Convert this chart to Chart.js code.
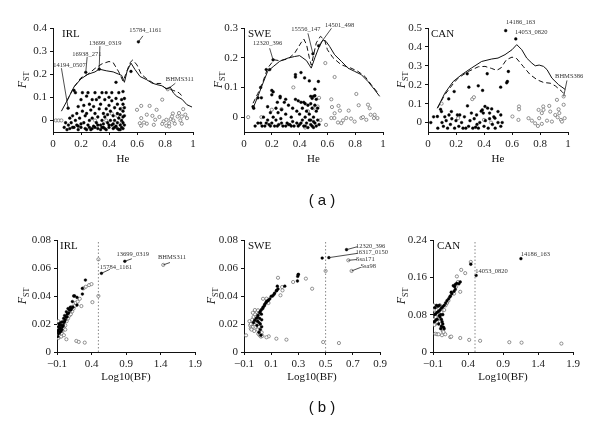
<!DOCTYPE html>
<html>
<head>
<meta charset="utf-8">
<script src="https://cdn.jsdelivr.net/npm/chart.js@4.4.1/dist/chart.umd.min.js"></script>
<style>
body { margin: 0; background: #fff; width: 600px; height: 433px; position: relative; overflow: hidden; }
canvas { position: absolute; }
.tag { position: absolute; width: 60px; text-align: center; font-family: "Liberation Sans", Arial, sans-serif; font-size: 15px; line-height: 17px; color: #111; }
</style>
</head>
<body>
<canvas id="aIRL"></canvas>
<canvas id="aSWE"></canvas>
<canvas id="aCAN"></canvas>
<canvas id="bIRL"></canvas>
<canvas id="bSWE"></canvas>
<canvas id="bCAN"></canvas>
<div class="tag" style="left:292px; top:191px">( a )</div>
<div class="tag" style="left:292px; top:398px">( b )</div>
<script>
// tick values and labels
const heTicks = [0, 0.2, 0.4, 0.6, 0.8, 1]
const heTickLabels = ['0', '0.2', '0.4', '0.6', '0.8', '1']
const bfTicksWide = [-0.1, 0.4, 0.9, 1.4, 1.9]
const bfTickLabelsWide = ['\u22120.1', '0.4', '0.9', '1.4', '1.9']
const bfTicksSwe = [-0.1, 0.1, 0.3, 0.5, 0.7, 0.9]
const bfTickLabelsSwe = ['\u22120.1', '0.1', '0.3', '0.5', '0.7', '0.9']
const fstTicksIrl = [0, 0.1, 0.2, 0.3, 0.4]
const fstTicksSwe = [0, 0.1, 0.2, 0.3]
const fstTicksCan = [0, 0.1, 0.2, 0.3, 0.4, 0.5]
const fstTicksB = [0, 0.02, 0.04, 0.06, 0.08]
const fstTicksBCan = [0, 0.08, 0.16, 0.24]
const bfCutoff = 0.5

// (a) IRL
const aIrlSolidX = [0.06,0.1,0.15,0.2,0.25,0.3,0.33,0.38,0.43,0.47,0.49,0.51,0.53,0.557,0.586,0.622,0.67,0.706,0.742,0.778,0.813,0.837,0.861,0.885,0.921,0.957,0.993]
const aIrlSolid = [0.04,0.085,0.145,0.18,0.2,0.21,0.222,0.215,0.21,0.2,0.195,0.165,0.215,0.248,0.22,0.19,0.176,0.162,0.155,0.15,0.136,0.145,0.118,0.104,0.092,0.068,0.058]
const aIrlDashedX = [0.1,0.15,0.2,0.25,0.3,0.35,0.4,0.43,0.47,0.5,0.52,0.55,0.57,0.6,0.63,0.67,0.72,0.77,0.8,0.83,0.86,0.9,0.93]
const aIrlDashed = [0.085,0.145,0.185,0.2,0.225,0.245,0.255,0.25,0.21,0.17,0.2,0.25,0.262,0.24,0.2,0.18,0.16,0.16,0.14,0.135,0.13,0.12,0.1]
const aIrlFilled = [[0.108,0.053],[0.234,0.208],[0.33,0.222],[0.557,0.212],[0.61,0.34],
  [0.08,-0.03],[0.09,-0.01],[0.1,-0.04],[0.11,-0.02],[0.12,-0.035],[0.12,0.01],[0.13,-0.01],[0.14,0.02],[0.14,-0.03],[0.15,-0.03],[0.15,0.13],
  [0.16,0.0],[0.16,0.12],[0.17,0.03],[0.17,-0.02],[0.18,0.06],[0.18,-0.04],[0.18,-0.025],[0.19,0.01],[0.2,0.09],[0.2,-0.03],[0.2,-0.015],
  [0.21,0.04],[0.21,0.12],[0.22,-0.01],[0.22,0.065],[0.23,0.02],[0.23,-0.035],[0.24,0.105],[0.24,0.03],[0.24,-0.04],[0.25,0.12],[0.25,-0.02],
  [0.26,0.07],[0.26,0.0],[0.26,-0.03],[0.27,0.045],[0.27,-0.04],[0.28,0.09],[0.28,0.01],[0.28,-0.035],[0.29,-0.025],[0.29,0.06],[0.3,0.12],
  [0.3,0.03],[0.3,-0.03],[0.31,-0.01],[0.31,0.09],[0.32,0.015],[0.32,-0.035],[0.32,-0.02],[0.33,0.1],[0.33,0.05],[0.34,-0.02],[0.34,0.07],
  [0.34,-0.04],[0.35,0.12],[0.35,0.0],[0.35,-0.03],[0.36,0.03],[0.36,-0.03],[0.36,-0.015],[0.37,0.09],[0.37,0.015],[0.37,-0.035],[0.38,0.12],
  [0.38,-0.04],[0.38,0.05],[0.39,-0.01],[0.39,0.025],[0.4,0.1],[0.4,-0.03],[0.4,0.065],[0.4,-0.02],[0.41,0.0],[0.41,0.04],[0.42,-0.02],
  [0.42,0.12],[0.42,0.085],[0.43,0.02],[0.43,-0.035],[0.43,-0.015],[0.44,0.055],[0.44,0.0],[0.44,-0.03],[0.45,0.165],[0.45,0.095],[0.45,-0.025],
  [0.46,0.03],[0.46,0.07],[0.46,-0.01],[0.46,-0.035],[0.47,0.12],[0.47,0.01],[0.47,-0.04],[0.48,0.05],[0.48,-0.02],[0.48,0.025],[0.48,-0.04],
  [0.49,0.09],[0.49,0.0],[0.49,-0.03],[0.5,0.125],[0.5,0.07],[0.5,0.04],[0.5,0.015],[0.5,-0.01],[0.5,-0.035],[0.51,0.095],[0.51,0.055],
  [0.51,0.02],[0.51,-0.02]]
const aIrlOpen = [[0.02,0.0],[0.04,0.0],[0.06,0.0],[0.3,0.0],[0.38,0.0],[0.42,0.03],[0.46,0.02],[0.49,0.05],[0.49,-0.01],
  [0.6,0.046],[0.63,0.063],[0.69,0.063],[0.74,0.046],[0.78,0.09],[0.63,0.01],[0.62,-0.012],[0.63,-0.023],[0.67,0.025],[0.71,0.02],
  [0.73,0.003],[0.76,0.015],[0.79,-0.004],[0.81,-0.023],[0.83,-0.012],[0.84,0.006],[0.86,0.0],[0.89,0.017],[0.9,0.032],[0.92,0.017],
  [0.93,0.049],[0.945,0.025],[0.957,0.01],[0.856,0.03],[0.81,0.003],[0.78,-0.015],[0.72,-0.019],[0.67,-0.014],[0.65,-0.009],[0.83,-0.026],
  [0.91,0.0],[0.87,-0.014],[0.85,0.017],[0.92,-0.014],[0.82,0.135]]

// (a) SWE
const aSweSolidX = [0.065,0.1,0.137,0.17,0.21,0.257,0.317,0.364,0.4,0.424,0.45,0.47,0.484,0.51,0.537,0.568,0.59,0.616,0.652,0.7,0.748,0.796,0.844,0.892,0.94,0.976]
const aSweSolid = [0.03,0.07,0.115,0.154,0.17,0.188,0.199,0.204,0.207,0.199,0.19,0.175,0.165,0.2,0.233,0.26,0.255,0.238,0.21,0.188,0.165,0.154,0.143,0.12,0.092,0.07]
const aSweDashedX = [0.065,0.1,0.137,0.17,0.216,0.257,0.317,0.364,0.41,0.43,0.45,0.47,0.484,0.52,0.55,0.58,0.6,0.64,0.7,0.77,0.82,0.87,0.916,0.964]
const aSweDashed = [0.047,0.08,0.12,0.165,0.193,0.19,0.196,0.215,0.25,0.263,0.244,0.2,0.175,0.25,0.272,0.26,0.227,0.2,0.176,0.165,0.154,0.137,0.109,0.081]
const aSweFilled = [[0.209,0.193],[0.496,0.213],[0.537,0.24],
  [0.065,0.035],[0.07,0.03],[0.08,-0.03],[0.1,0.065],[0.1,-0.02],[0.12,0.1],[0.125,0.065],[0.12,-0.02],[0.13,-0.03],[0.14,0.0],[0.15,-0.03],
  [0.16,0.16],[0.16,-0.02],[0.17,0.035],[0.17,-0.01],[0.18,-0.025],[0.185,0.16],[0.19,0.015],[0.19,-0.03],[0.2,0.09],[0.2,0.075],[0.2,-0.02],
  [0.21,0.085],[0.21,0.0],[0.22,-0.03],[0.23,0.03],[0.23,-0.01],[0.24,0.05],[0.24,-0.03],[0.245,0.015],[0.25,-0.025],[0.26,0.07],[0.26,0.065],
  [0.265,-0.005],[0.27,0.025],[0.27,-0.02],[0.28,-0.03],[0.29,0.05],[0.3,0.06],[0.3,0.01],[0.3,-0.03],[0.31,-0.02],[0.32,0.04],[0.32,-0.025],
  [0.33,-0.025],[0.34,0.0],[0.34,-0.03],[0.35,0.03],[0.35,-0.015],[0.36,-0.03],[0.37,0.135],[0.37,0.143],[0.37,0.06],[0.38,0.02],[0.38,-0.02],
  [0.39,0.055],[0.39,-0.03],[0.4,-0.025],[0.4,0.01],[0.41,0.15],[0.41,0.05],[0.41,-0.02],[0.42,-0.01],[0.42,0.03],[0.43,0.05],[0.43,-0.03],
  [0.436,0.132],[0.44,0.0],[0.44,0.045],[0.44,-0.03],[0.45,0.02],[0.45,-0.02],[0.46,0.04],[0.46,-0.035],[0.47,0.122],[0.47,0.01],[0.47,-0.01],
  [0.48,0.07],[0.48,0.045],[0.48,-0.025],[0.48,-0.01],[0.49,0.063],[0.49,0.03],[0.49,-0.03],[0.5,0.07],[0.5,0.0],[0.5,-0.015],[0.5,-0.035],
  [0.51,0.094],[0.51,0.072],[0.51,0.04],[0.51,-0.02],[0.52,0.06],[0.52,0.02],[0.52,-0.03],[0.53,0.03],[0.53,-0.01],[0.535,0.12],[0.54,-0.025]]
const aSweOpen = [[0.03,0.0],[0.125,0.0],[0.2,0.025],[0.27,0.027],[0.355,0.1],[0.44,-0.035],[0.46,0.02],[0.5,0.03],[0.53,0.036],[0.54,0.065],
  [0.55,-0.01],[0.585,0.182],[0.59,-0.026],[0.628,0.06],[0.628,-0.003],[0.633,0.034],[0.65,-0.003],[0.652,0.135],[0.652,0.013],[0.676,-0.018],
  [0.68,0.038],[0.69,0.022],[0.7,-0.02],[0.712,-0.011],[0.736,-0.003],[0.753,0.022],[0.77,-0.005],[0.796,-0.015],[0.808,0.078],[0.825,0.04],
  [0.844,-0.003],[0.856,0.0],[0.88,-0.009],[0.892,0.042],[0.904,0.03],[0.911,0.008],[0.935,-0.003],[0.94,0.008],[0.96,-0.003]]

// (a) CAN
const aCanSolidX = [0.067,0.12,0.18,0.24,0.31,0.383,0.455,0.5,0.55,0.6,0.634,0.67,0.705,0.742,0.766,0.794,0.825,0.85,0.885,0.933,0.98]
const aCanSolid = [0.076,0.155,0.217,0.253,0.288,0.323,0.336,0.341,0.359,0.385,0.412,0.385,0.341,0.314,0.3,0.304,0.297,0.28,0.235,0.2,0.175]
const aCanDashedX = [0.067,0.12,0.18,0.215,0.287,0.36,0.407,0.455,0.49,0.52,0.56,0.6,0.634,0.68,0.73,0.78,0.825,0.873,0.909,0.957,0.985]
const aCanDashed = [0.076,0.147,0.205,0.235,0.27,0.295,0.297,0.286,0.276,0.288,0.332,0.346,0.338,0.297,0.253,0.226,0.212,0.208,0.194,0.164,0.141]
const aCanFilled = [[0.555,0.486],[0.627,0.442],
  [0.02,0.0],[0.04,0.03],[0.067,0.032],[0.07,-0.03],[0.09,0.07],[0.096,0.058],[0.1,0.0],[0.11,-0.02],[0.12,0.03],[0.13,0.01],[0.14,-0.03],
  [0.148,0.125],[0.15,0.04],[0.16,-0.01],[0.167,0.058],[0.17,0.02],[0.187,0.164],[0.19,-0.03],[0.2,0.01],[0.21,0.04],[0.22,-0.02],[0.227,0.04],
  [0.24,0.0],[0.25,-0.03],[0.26,0.03],[0.28,0.258],[0.282,0.088],[0.292,0.187],[0.29,-0.02],[0.3,0.01],[0.31,0.05],[0.32,-0.03],[0.33,0.02],
  [0.347,0.04],[0.35,-0.01],[0.359,0.194],[0.36,-0.03],[0.37,0.0],[0.38,0.06],[0.388,0.067],[0.39,0.17],[0.395,0.05],[0.4,-0.02],[0.407,0.085],
  [0.41,0.01],[0.423,0.258],[0.426,0.076],[0.43,-0.03],[0.44,0.05],[0.44,0.02],[0.455,0.072],[0.46,-0.01],[0.47,0.03],[0.478,0.023],[0.48,-0.03],
  [0.5,0.058],[0.5,0.0],[0.519,0.187],[0.52,0.04],[0.52,-0.02],[0.562,0.21],[0.567,0.217],[0.574,0.27],[0.53,0.0],[0.27,-0.03],[0.34,-0.025]]
const aCanOpen = [[0.097,0.1],[0.215,0.023],[0.316,0.124],[0.328,0.134],[0.4,0.014],[0.45,0.0],[0.603,0.032],[0.65,0.085],[0.65,0.07],
  [0.646,0.014],[0.718,0.023],[0.742,0.01],[0.765,-0.004],[0.785,-0.018],[0.79,0.067],[0.794,0.023],[0.813,0.05],[0.813,-0.007],[0.823,0.085],
  [0.825,0.067],[0.85,0.01],[0.866,0.088],[0.873,0.058],[0.885,0.005],[0.909,0.04],[0.921,0.12],[0.926,0.028],[0.933,0.07],[0.938,0.05],
  [0.95,0.014],[0.957,0.005],[0.969,0.094],[0.969,0.138],[0.976,0.023]]

// (b) IRL
const bIrlFilled = [[0.312,0.0514],[0.268,0.0454],[0.268,0.0414],[0.19,0.039],[0.142,0.04],[0.155,0.04],[0.19,0.0335],[0.123,0.036],
  [0.094,0.032],[0.06,0.031],[0.036,0.0287],[0.011,0.026],[-0.003,0.024],[-0.023,0.0215],[-0.037,0.019],[-0.05,0.017],[0.544,0.0562],
  [0.883,0.0648],[0.08,0.03],[0.07,0.028],[0.05,0.027],[0.03,0.025],[0.02,0.023],[0.0,0.021],[-0.01,0.019],[-0.02,0.018],[-0.03,0.016],
  [-0.04,0.015],[-0.06,0.014],[-0.07,0.016],[-0.08,0.013],[-0.06,0.019],[-0.07,0.02],[-0.08,0.018],[0.1,0.03],[0.11,0.031],[0.13,0.032],
  [0.045,0.025],[0.01,0.022],[-0.045,0.021],[-0.09,0.015],[-0.09,0.011]]
const bIrlOpen = [[0.5,0.0662],[0.5,0.04],[0.413,0.0356],[0.365,0.0478],[0.317,0.0466],[0.4,0.0485],[0.253,0.0328],[0.18,0.0079],
  [0.215,0.0072],[0.302,0.0067],[0.036,0.0091],[0.171,0.0351],[0.123,0.0323],[-0.085,0.0175],[-0.071,0.0155],[-0.047,0.0127],
  [-0.071,0.0108],[1.44,0.0622],[-0.09,0.012],[-0.08,0.01],[-0.06,0.012],[-0.05,0.014],[-0.03,0.013],[-0.02,0.015],[0.0,0.017],
  [0.02,0.019],[0.04,0.022],[0.06,0.024],[0.08,0.026],[0.1,0.027],[0.12,0.029],[0.14,0.031],[0.16,0.033],[-0.09,0.019],[-0.08,0.022],
  [-0.04,0.011],[0.0,0.012],[0.02,0.016],[0.2,0.036],[0.23,0.038],[0.285,0.0455]]

// (b) SWE
const bSweFilled = [[0.475,0.0671],[0.524,0.0674],[0.654,0.0731],[0.298,0.0552],[0.295,0.054],[0.3,0.0555],[0.293,0.0507],[0.2,0.047],
  [0.15,0.045],[0.138,0.0436],[0.125,0.042],[0.1,0.0398],[0.09,0.038],[0.072,0.0364],[0.06,0.035],[0.052,0.034],[0.04,0.032],[0.028,0.0302],
  [0.02,0.029],[0.015,0.028],[0.003,0.0262],[-0.01,0.024],[-0.021,0.0226],[-0.03,0.021],[0.0,0.022],[0.01,0.021],[0.02,0.02],[0.03,0.023],
  [0.03,0.018],[0.02,0.016],[0.01,0.014],[0.025,0.012],[-0.005,0.019],[0.05,0.033],[0.065,0.036],[0.08,0.037],[0.11,0.04],[0.14,0.044],
  [0.145,0.047],[0.12,0.041],[0.038,0.031],[0.028,0.027],[0.0,0.025],[0.015,0.024]]
const bSweOpen = [[0.667,0.0655],[0.691,0.0579],[0.5,0.0579],[0.482,0.0071],[0.598,0.0064],[0.401,0.0452],[0.355,0.0524],[0.261,0.05],
  [0.15,0.053],[0.18,0.0464],[0.168,0.0405],[0.212,0.0088],[0.138,0.0095],[0.082,0.0112],[0.065,0.0105],[-0.085,0.0119],[0.015,0.0119],
  [0.025,0.011],[0.035,0.0115],[-0.034,0.0179],[-0.05,0.0167],[-0.04,0.0202],[-0.021,0.0214],[-0.009,0.0286],[0.003,0.0298],[0.065,0.0381],
  [0.08,0.035],[0.183,0.044],[-0.06,0.022],[-0.055,0.019],[-0.045,0.016],[-0.03,0.025],[-0.02,0.027],[-0.01,0.023],[-0.04,0.023],
  [-0.015,0.018],[0.0,0.016],[0.01,0.018],[-0.05,0.02],[-0.025,0.015],[0.005,0.013],[0.02,0.013],[-0.035,0.028],[-0.02,0.03],[0.04,0.038],
  [0.03,0.014]]

// (b) CAN
const bCanFilled = [[1.156,0.2],[0.516,0.164],[0.44,0.188],[0.289,0.15],[0.27,0.146],[0.218,0.134],[0.2,0.13],[0.17,0.125],[0.15,0.12],
  [0.123,0.114],[0.1,0.11],[0.08,0.105],[0.06,0.1],[0.04,0.097],[0.02,0.094],[0.0,0.09],[-0.02,0.087],[-0.04,0.085],[-0.06,0.082],
  [-0.08,0.08],[-0.07,0.095],[-0.05,0.1],[-0.03,0.098],[-0.01,0.1],[0.0,0.075],[0.02,0.07],[0.03,0.065],[0.04,0.06],[0.02,0.055],[0.01,0.05],
  [-0.02,0.06],[-0.04,0.07],[-0.06,0.068],[-0.08,0.065],[0.05,0.053],[0.06,0.05],[0.04,0.08],[0.01,0.08],[-0.01,0.078],[0.19,0.142],
  [0.21,0.14],[0.16,0.128],[0.14,0.118],[0.24,0.147],[0.22,0.145]]
const bCanOpen = [[0.44,0.193],[0.303,0.176],[0.36,0.169],[0.241,0.162],[0.255,0.15],[0.289,0.129],[-0.067,0.039],[-0.04,0.038],
  [-0.019,0.038],[0.028,0.036],[0.075,0.038],[0.146,0.032],[0.16,0.033],[0.289,0.03],[0.417,0.026],[0.573,0.024],[0.99,0.021],[1.165,0.02],
  [1.734,0.018],[-0.085,0.07],[-0.08,0.09],[-0.09,0.1],[-0.06,0.075],[-0.05,0.09],[-0.03,0.08],[-0.02,0.072],[0.0,0.065],[0.01,0.06],
  [0.03,0.05],[0.04,0.045],[0.05,0.043],[-0.07,0.06],[-0.09,0.08],[0.0,0.1],[0.02,0.085],[0.06,0.09],[0.08,0.1],[0.1,0.105],[0.12,0.11],
  [0.2,0.125],[0.23,0.14],[-0.08,0.058]]

const serif = '"Liberation Serif", "DejaVu Serif", serif'

function toPoints(pairs) {
    return pairs.map(([x, y]) => ({ x, y }))
}

function lineSet(xs, ys, dash) {
    return {
        data: xs.map((x, i) => ({ x, y: ys[i] })),
        showLine: true,
        borderColor: '#111',
        borderWidth: 1,
        borderDash: dash,
        pointRadius: 0,
        tension: 0
    }
}

function pointSet(pairs, filled) {
    return {
        data: toPoints(pairs),
        pointRadius: filled ? 1.4 : 1.6,
        pointBackgroundColor: filled ? '#000' : '#fff',
        pointBorderColor: filled ? '#000' : '#666',
        pointBorderWidth: filled ? 0.4 : 0.7
    }
}

function textPlugin(p) {
    return {
        id: 'panelText',
        afterDatasetsDraw(chart) {
            const ctx = chart.ctx
            const a = chart.chartArea
            const xs = chart.scales.x
            const ys = chart.scales.y
            ctx.save()
            ctx.fillStyle = '#111'
            ctx.textBaseline = 'middle'
            ctx.textAlign = 'left'
            ctx.font = '11px ' + serif
            ctx.fillText(p.name, a.left + p.nameDx, a.top + 6)
            ctx.textAlign = 'center'
            ctx.fillText(p.xTitle, (a.left + a.right) / 2, a.bottom + p.xTitleDy)

            // F with subscript ST, rotated
            ctx.save()
            ctx.translate(a.left - p.fstDx, (a.top + a.bottom) / 2)
            ctx.rotate(-Math.PI / 2)
            ctx.textAlign = 'left'
            ctx.textBaseline = 'alphabetic'
            ctx.font = 'italic 12px ' + serif
            const wF = ctx.measureText('F').width
            ctx.font = '8px ' + serif
            const wS = ctx.measureText('ST').width
            const x0 = -(wF + wS) / 2
            ctx.font = 'italic 12px ' + serif
            ctx.fillText('F', x0, 4)
            ctx.font = '8px ' + serif
            ctx.fillText('ST', x0 + wF, 7)
            ctx.restore()

            // locus labels
            ctx.font = '6.5px ' + serif
            ctx.fillStyle = '#333'
            ctx.strokeStyle = '#222'
            ctx.lineWidth = 0.8
            ctx.textAlign = 'center'
            ctx.textBaseline = 'middle'
            p.notes.forEach(n => {
                const px = xs.getPixelForValue(n.x)
                const py = ys.getPixelForValue(n.y)
                if (n.lx !== undefined) {
                    ctx.beginPath()
                    ctx.moveTo(px, py)
                    ctx.lineTo(px + n.lx, py + n.ly)
                    ctx.stroke()
                }
                ctx.fillText(n.t, px + n.dx, py + n.dy)
            })
            ctx.restore()
        }
    }
}

function axis(min, max, ticks, labels, horizontal) {
    return {
        type: 'linear',
        min: min,
        max: max,
        grid: { display: true, drawOnChartArea: false, drawTicks: true, tickLength: 3, color: '#111' },
        border: { display: true, color: '#111', width: 1 },
        ticks: {
            font: { family: serif, size: 11 },
            color: '#222',
            padding: horizontal ? 3 : 3,
            maxRotation: 0,
            autoSkip: false,
            callback: (v, i) => labels[i]
        },
        afterBuildTicks: s => { s.ticks = ticks.map(v => ({ value: v })) },
        afterFit: s => {
            if (horizontal) s.height = 40
            else s.width = 40
        }
    }
}

function renderPanel(p) {
    const [l, t, r, b] = p.area
    const canvas = document.getElementById(p.id)
    canvas.width = r - l + 60
    canvas.height = b - t + 50
    canvas.style.left = (l - 40) + 'px'
    canvas.style.top = (t - 10) + 'px'

    const datasets = []
    if (p.solidX) datasets.push(lineSet(p.solidX, p.solid, []))
    if (p.dashedX) datasets.push(lineSet(p.dashedX, p.dashed, [5, 3]))
    if (p.cut !== undefined) {
        datasets.push({
            data: [{ x: p.cut, y: 0 }, { x: p.cut, y: p.yMax }],
            showLine: true,
            borderColor: '#888',
            borderWidth: 1,
            borderDash: [1.5, 2],
            pointRadius: 0
        })
    }
    datasets.push(pointSet(p.filled, true))
    datasets.push(pointSet(p.open, false))

    new Chart(canvas.getContext('2d'), {
        type: 'scatter',
        data: { datasets: datasets },
        options: {
            responsive: false,
            animation: false,
            layout: { padding: { left: 0, top: 10, right: 20, bottom: 0 } },
            scales: {
                x: axis(p.xMin, p.xMax, p.xTicks, p.xLabels, true),
                y: axis(p.yMin, p.yMax, p.yTicks, p.yLabels, false)
            },
            plugins: {
                legend: { display: false },
                tooltip: { enabled: false }
            }
        },
        plugins: [textPlugin(p)]
    })
}

const fmt = arr => arr.map(v => String(v))

renderPanel({
    id: 'aIRL', area: [53, 28, 193, 132], name: 'IRL', nameDx: 9, xTitle: 'He', xTitleDy: 27, fstDx: 31,
    xMin: 0, xMax: 1, xTicks: heTicks, xLabels: heTickLabels,
    yMin: -0.05, yMax: 0.4, yTicks: fstTicksIrl, yLabels: fmt(fstTicksIrl),
    solidX: aIrlSolidX, solid: aIrlSolid, dashedX: aIrlDashedX, dashed: aIrlDashed,
    filled: aIrlFilled, open: aIrlOpen,
    notes: [
        { t: '15784_1161', x: 0.61, y: 0.34, dx: 7, dy: -11.5, lx: 4.5, ly: -6 },
        { t: '13699_0319', x: 0.33, y: 0.222, dx: 6, dy: -26, lx: 0.7, ly: -23 },
        { t: '16938_271', x: 0.234, y: 0.208, dx: 1, dy: -18, lx: 1.4, ly: -15.5 },
        { t: '14194_0507', x: 0.108, y: 0.053, dx: 1.5, dy: -42.5, lx: -6.7, ly: -40 },
        { t: 'BHMS311', x: 0.82, y: 0.135, dx: 12, dy: -10, lx: 7.5, ly: -6 }
    ]
})

renderPanel({
    id: 'aSWE', area: [244, 28, 383, 132], name: 'SWE', nameDx: 4, xTitle: 'He', xTitleDy: 27, fstDx: 26,
    xMin: 0, xMax: 1, xTicks: heTicks, xLabels: heTickLabels,
    yMin: -0.05, yMax: 0.3, yTicks: fstTicksSwe, yLabels: fmt(fstTicksSwe),
    solidX: aSweSolidX, solid: aSweSolid, dashedX: aSweDashedX, dashed: aSweDashed,
    filled: aSweFilled, open: aSweOpen,
    notes: [
        { t: '12320_396', x: 0.209, y: 0.193, dx: -5.5, dy: -16, lx: -3.4, ly: -11.5 },
        { t: '15556_147', x: 0.496, y: 0.213, dx: -7, dy: -25, lx: -5, ly: -20.5 },
        { t: '14501_498', x: 0.537, y: 0.24, dx: 21, dy: -21, lx: 12.8, ly: -17.5 }
    ]
})

renderPanel({
    id: 'aCAN', area: [428, 28, 568, 132], name: 'CAN', nameDx: 3, xTitle: 'He', xTitleDy: 27, fstDx: 27,
    xMin: 0, xMax: 1, xTicks: heTicks, xLabels: heTickLabels,
    yMin: -0.05, yMax: 0.5, yTicks: fstTicksCan, yLabels: fmt(fstTicksCan),
    solidX: aCanSolidX, solid: aCanSolid, dashedX: aCanDashedX, dashed: aCanDashed,
    filled: aCanFilled, open: aCanOpen,
    notes: [
        { t: '14186_163', x: 0.555, y: 0.486, dx: 15, dy: -8 },
        { t: '14053_0820', x: 0.627, y: 0.442, dx: 15.5, dy: -6.5 },
        { t: 'BHMS386', x: 0.969, y: 0.138, dx: 5.5, dy: -20.5, lx: 3.3, ly: -16 }
    ]
})

renderPanel({
    id: 'bIRL', area: [57, 240, 195, 352], name: 'IRL', nameDx: 3, xTitle: 'Log10(BF)', xTitleDy: 25, fstDx: 35,
    xMin: -0.1, xMax: 1.9, xTicks: bfTicksWide, xLabels: bfTickLabelsWide,
    yMin: 0, yMax: 0.08, yTicks: fstTicksB, yLabels: fmt(fstTicksB),
    cut: bfCutoff, filled: bIrlFilled, open: bIrlOpen,
    notes: [
        { t: '13699_0319', x: 0.883, y: 0.0648, dx: 8, dy: -6.5, lx: 7, ly: -2.5 },
        { t: '15784_1161', x: 0.544, y: 0.0562, dx: 14.5, dy: -6.5, lx: 8.5, ly: -4 },
        { t: 'BHMS311', x: 1.44, y: 0.0622, dx: 8.7, dy: -7.4, lx: 6.7, ly: -2.4 }
    ]
})

renderPanel({
    id: 'bSWE', area: [244, 240, 380, 352], name: 'SWE', nameDx: 4, xTitle: 'Log10(BF)', xTitleDy: 25, fstDx: 33,
    xMin: -0.1, xMax: 0.9, xTicks: bfTicksSwe, xLabels: bfTickLabelsSwe,
    yMin: 0, yMax: 0.08, yTicks: fstTicksB, yLabels: fmt(fstTicksB),
    cut: bfCutoff, filled: bSweFilled, open: bSweOpen,
    notes: [
        { t: '12320_396', x: 0.654, y: 0.0731, dx: 24, dy: -3.6, lx: 11, ly: -3 },
        { t: '16317_0150', x: 0.524, y: 0.0674, dx: 43, dy: -5, lx: 28.7, ly: -4.3 },
        { t: 'Ssa171', x: 0.667, y: 0.0655, dx: 17, dy: -1, lx: 8.7, ly: -0.8 },
        { t: 'Ssa98', x: 0.691, y: 0.0579, dx: 16.6, dy: -4.2, lx: 9.3, ly: -3.6 }
    ]
})

renderPanel({
    id: 'bCAN', area: [433, 240, 573, 352], name: 'CAN', nameDx: 4, xTitle: 'Log10(BF)', xTitleDy: 25, fstDx: 32,
    xMin: -0.1, xMax: 1.9, xTicks: bfTicksWide, xLabels: bfTickLabelsWide,
    yMin: 0, yMax: 0.24, yTicks: fstTicksBCan, yLabels: fmt(fstTicksBCan),
    cut: bfCutoff, filled: bCanFilled, open: bCanOpen,
    notes: [
        { t: '14186_163', x: 1.156, y: 0.2, dx: 14.5, dy: -4.6 },
        { t: '14053_0820', x: 0.516, y: 0.164, dx: 15.5, dy: -3.7 }
    ]
})
</script>
</body>
</html>
